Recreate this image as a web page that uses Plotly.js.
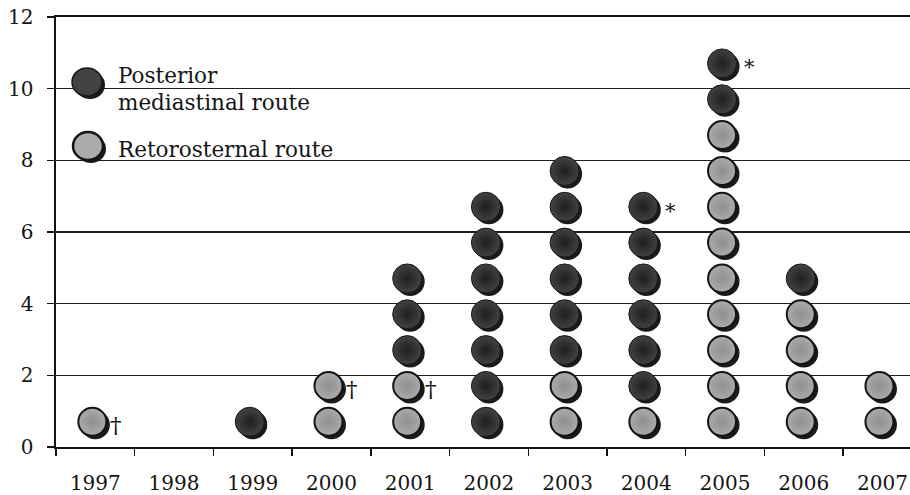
<!DOCTYPE html>
<html>
<head>
<meta charset="utf-8">
<script src="https://cdn.plot.ly/plotly-3.0.1.min.js"></script>
<style>
  html, body { margin: 0; padding: 0; background: #ffffff; }
  #chart { width: 910px; height: 495px; }
</style>
</head>
<body>
<div id="chart"></div>
<script>
// Operations per year, split by reconstruction route
const years = [1997, 1998, 1999, 2000, 2001, 2002, 2003, 2004, 2005, 2006, 2007];
const tickLabels = ['1997', '1998', '1999', '2000', '2001', '2002', '2003', '2004', '2005', '2006', '2007'];
const retrosternal = [1, 0, 0, 2, 2, 0, 2, 1, 9, 4, 2];
const posterior = [0, 0, 1, 0, 3, 7, 6, 6, 2, 1, 0];

// Footnote marks: year, position in that year's stack, symbol
const noteYears = [1997, 2000, 2001, 2004, 2005];
const noteStack = [1, 2, 2, 7, 11];
const noteSymbols = ['\u2020', '\u2020', '\u2020', '*', '*'];

const seriesNames = ['Posterior mediastinal route', 'Retorosternal route'];

// ---- layout constants ----
const W = 910, H = 495;
const M = { l: 56, r: 0, t: 17, b: 48 };
const X_RANGE = [1996.5, 2007.35];
const Y_RANGE = [0, 12];
const plotW = W - M.l - M.r, plotH = H - M.t - M.b;
const pxPerX = plotW / (X_RANGE[1] - X_RANGE[0]);
const pxPerY = plotH / (Y_RANGE[1] - Y_RANGE[0]);
const SHADOW_PX = 3;               // drop shadow offset of every dot
const STACK_OFFSET = 0.38;         // dots sit a little below each whole count
const DOT = 28;

const FONT = 'DejaVu Serif, Liberation Serif, serif';
const INK = '#141414';
const DARK = { fill: '#424242', edge: '#1f1f1f', line: '#181818', lw: 1 };
const LIGHT = { fill: '#ababab', edge: '#8f8f8f', line: '#141414', lw: 2 };

// stack dots: retrosternal at the bottom, posterior above
const retroX = [], retroY = [], postX = [], postY = [];
years.forEach((yr, i) => {
  for (let k = 1; k <= retrosternal[i]; k++) {
    retroX.push(yr); retroY.push(k - STACK_OFFSET);
  }
  for (let k = retrosternal[i] + 1; k <= retrosternal[i] + posterior[i]; k++) {
    postX.push(yr); postY.push(k - STACK_OFFSET);
  }
});

const allX = retroX.concat(postX), allY = retroY.concat(postY);

const traces = [
  // shadows on the base axes
  {
    type: 'scatter', mode: 'markers', x: allX, y: allY,
    xaxis: 'x', yaxis: 'y', hoverinfo: 'skip', showlegend: false,
    marker: { size: DOT + 1, color: '#1a1a1a', line: { width: 0 } }
  },
  // dots on an overlay nudged up-left by the shadow offset
  {
    type: 'scatter', mode: 'markers', name: seriesNames[1], x: retroX, y: retroY,
    xaxis: 'x2', yaxis: 'y2', showlegend: false,
    marker: {
      size: DOT, color: LIGHT.fill,
      gradient: { type: 'radial', color: LIGHT.edge },
      line: { color: LIGHT.line, width: LIGHT.lw }
    }
  },
  {
    type: 'scatter', mode: 'markers', name: seriesNames[0], x: postX, y: postY,
    xaxis: 'x2', yaxis: 'y2', showlegend: false,
    marker: {
      size: DOT + 1, color: DARK.fill,
      gradient: { type: 'radial', color: DARK.edge },
      line: { color: DARK.line, width: DARK.lw }
    }
  }
];

const dx = SHADOW_PX / pxPerX, dy = SHADOW_PX / pxPerY;

// footnote symbols beside the marked dots
const annotations = noteYears.map((yr, i) => {
  const dagger = noteSymbols[i] !== '*';
  return {
    xref: 'x2', yref: 'y2', x: yr, y: noteStack[i] - STACK_OFFSET,
    text: noteSymbols[i], showarrow: false,
    xanchor: 'center', yanchor: 'middle',
    xshift: dagger ? 24 : 27,
    yshift: dagger ? -3 : -4,
    font: { family: FONT, size: dagger ? 23 : 21, color: INK }
  };
});

// hand-built key in the upper left
const px2paperX = px => (px - M.l) / plotW;
const px2paperY = py => (H - M.b - py) / plotH;

function keyDot(cx, cy, style) {
  const r = (DOT + 2) / 2;
  return [
    { type: 'circle', xref: 'paper', yref: 'paper', layer: 'above',
      xsizemode: 'pixel', ysizemode: 'pixel',
      xanchor: px2paperX(cx + SHADOW_PX), yanchor: px2paperY(cy + SHADOW_PX),
      x0: -r, x1: r, y0: -r + 1, y1: r - 1,
      fillcolor: '#1a1a1a', line: { width: 0 } },
    { type: 'circle', xref: 'paper', yref: 'paper', layer: 'above',
      xsizemode: 'pixel', ysizemode: 'pixel',
      xanchor: px2paperX(cx), yanchor: px2paperY(cy),
      x0: -r, x1: r, y0: -r + 1, y1: r - 1,
      fillcolor: style.fill, line: { color: style.line, width: style.lw + 0.5 } }
  ];
}

const shapes = [].concat(keyDot(87, 82, DARK), keyDot(88, 146, LIGHT));

const keyText = [
  { text: 'Posterior', py: 75 },
  { text: 'mediastinal route', py: 103 },
  { text: 'Retorosternal route', py: 149 }
];
keyText.forEach(t => annotations.push({
  xref: 'paper', yref: 'paper', x: px2paperX(116), y: px2paperY(t.py),
  xanchor: 'left', yanchor: 'middle', showarrow: false, text: t.text,
  font: { family: FONT, size: 21.5, color: INK }
}));

const layout = {
  width: W, height: H,
  margin: M,
  paper_bgcolor: '#ffffff', plot_bgcolor: '#ffffff',
  showlegend: false,
  xaxis: {
    type: 'linear', range: X_RANGE, fixedrange: true,
    tickmode: 'array', tickvals: years, ticktext: tickLabels,
    ticks: '', showgrid: false, zeroline: false,
    showline: true, mirror: true, linecolor: INK, linewidth: 1.6,
    ticklabelstandoff: 17,
    tickfont: { family: FONT, size: 20, color: INK },
    minor: {
      tickmode: 'array', tickvals: years.map(y => y - 0.5),
      ticks: 'outside', ticklen: 7, tickwidth: 1.5, tickcolor: INK, showgrid: false
    }
  },
  yaxis: {
    type: 'linear', range: Y_RANGE, fixedrange: true,
    tickmode: 'linear', tick0: 0, dtick: 2,
    ticks: 'outside', ticklen: 7, tickwidth: 1.5, tickcolor: INK,
    showgrid: true, gridcolor: '#1e1e1e', gridwidth: 1.5,
    zeroline: false, showline: true, linecolor: INK, linewidth: 1.6,
    ticklabelstandoff: 10,
    tickfont: { family: FONT, size: 20, color: INK }
  },
  xaxis2: {
    type: 'linear', overlaying: 'x', anchor: 'y2', visible: false, fixedrange: true,
    range: [X_RANGE[0] + dx, X_RANGE[1] + dx]
  },
  yaxis2: {
    type: 'linear', overlaying: 'y', anchor: 'x2', visible: false, fixedrange: true,
    range: [Y_RANGE[0] - dy, Y_RANGE[1] - dy]
  },
  shapes: shapes,
  annotations: annotations
};

Plotly.newPlot('chart', traces, layout, { staticPlot: true, displayModeBar: false });
</script>
</body>
</html>
